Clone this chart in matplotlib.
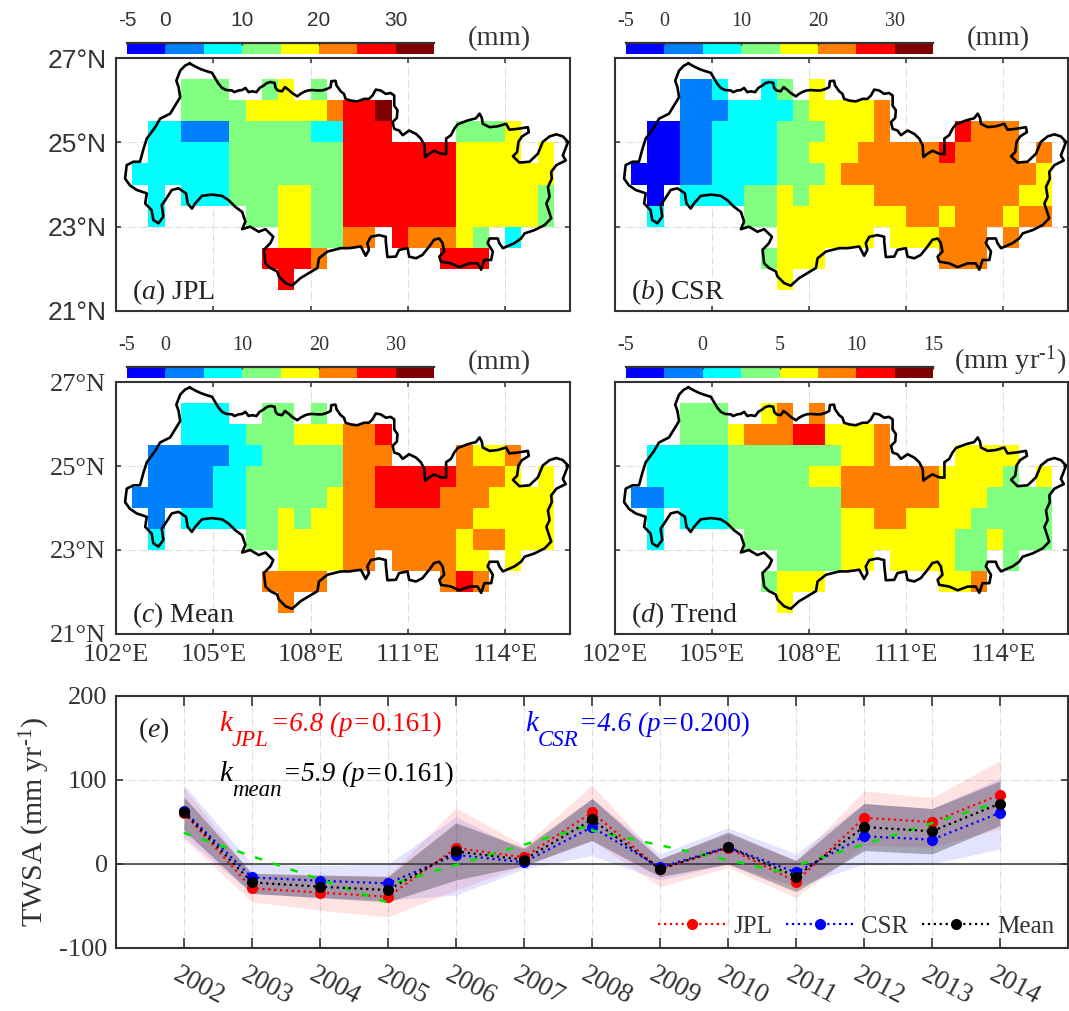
#!/usr/bin/env python3
"""TWSA maps (JPL, CSR, mean, trend) over the basin plus the yearly series."""
import matplotlib
matplotlib.use("Agg")
import matplotlib.pyplot as plt
from matplotlib import cm
from matplotlib.colors import BoundaryNorm, ListedColormap
from matplotlib.transforms import ScaledTranslation
import numpy as np

W, H = 1069, 1011

# class colours of the maps, low to high
CLASS_COLORS = ["#0000ff", "#0080ff", "#00ffff", "#80ff80",
                "#ffff00", "#ff8000", "#ff0000", "#800000"]

# 0.5 degree cells, rows from north to south, cols from 102.5E; . = outside
GRID_JPL = [
    "...333..34.3..............",
    "...3333444445667..........",
    ".221113333322666....3334..",
    ".22222333333366666664444.4",
    "22222233333336666666444444",
    ".2.22233344336666666444443",
    ".2.....3344336666666444443",
    ".........443355.655543.2..",
    "........6665.......666....",
    ".........6................",
]
GRID_CSR = [
    "...112..23.4..............",
    "...1112222344445..........",
    ".001122223334445....6555..",
    ".00112222334445555565555.5",
    "00011222233345555555555554",
    ".0.222233434444555555555" "44",
    ".2.....3344444444554555455",
    ".........444444.444555.5..",
    "........3444.......555....",
    ".........4................",
]
GRID_MEAN = [
    "...222..33.3..............",
    "...2222333444556..........",
    ".111112233333555....5445..",
    ".11112233333355666665554.4",
    "11111223333345566665554444",
    ".1.22223343445555555" "544444",
    ".2.....3344445555555455444",
    ".........444455.555544.4..",
    "........5555.......565....",
    ".........5................",
]
GRID_TREND = [
    "...333..45.5..............",
    "...3334555664445..........",
    ".222223333333445....4444..",
    ".2222233333445555554444" "3.4",
    "11222233333335555554443333",
    ".2.22233333334455444433333",
    ".2.....3333334444444334333",
    ".........333344.444433.3..",
    "........3444.......445....",
    ".........4................",
]

# basin outline, degrees
BORDER_LON = [
    104.27, 104.44, 104.60, 104.78, 104.96, 105.06, 105.16, 105.27, 105.40, 105.58,
    105.65, 105.78, 105.89, 105.99, 106.09, 106.20, 106.33, 106.43, 106.56, 106.64,
    106.76, 106.89, 106.92, 106.99, 107.12, 107.21, 107.33, 107.43, 107.59, 107.69,
    107.81, 107.92, 108.05, 108.21, 108.36, 108.52, 108.62, 108.64, 108.77, 108.80,
    108.93, 109.03, 109.08, 109.24, 109.44, 109.65, 109.80, 109.91, 110.01, 110.16,
    110.32, 110.47, 110.58, 110.58, 110.68, 110.66, 110.53, 110.58, 110.73, 110.84,
    111.04, 111.25, 111.40, 111.51, 111.53, 111.66, 111.81, 112.02, 112.18, 112.18,
    112.33, 112.43, 112.54, 112.85, 113.10, 113.21, 113.28, 113.31, 113.52, 113.77,
    114.03, 114.13, 114.39, 114.70, 114.73, 114.52, 114.41, 114.37, 114.24, 114.44,
    114.75, 115.01, 115.16, 115.37, 115.58, 115.78, 115.94, 115.86, 115.78, 115.87,
    115.58, 115.42, 115.44, 115.32, 115.37, 115.27, 115.42, 115.22, 114.91, 114.60,
    114.49, 114.29, 113.93, 113.82, 113.77, 113.52, 113.46, 113.62, 113.57, 113.36,
    113.26, 113.15, 112.90, 112.59, 112.33, 112.02, 111.97, 112.12, 112.07, 111.97,
    111.81, 111.66, 111.45, 111.25, 111.04, 110.99, 110.73, 110.63, 110.37, 110.32,
    110.32, 110.11, 109.86, 109.75, 109.80, 109.70, 109.55, 109.19, 108.93, 108.52,
    108.26, 108.21, 107.95, 107.69, 107.43, 107.23, 107.02, 106.97, 106.76, 106.61,
    106.56, 106.76, 106.85, 106.61, 106.40, 106.14, 105.89, 105.99, 105.89, 105.68,
    105.47, 105.27, 104.96, 104.65, 104.44, 104.34, 104.21, 104.16, 103.93, 103.72,
    103.52, 103.41, 103.46, 103.31, 103.15, 103.10, 102.90, 102.95, 102.64, 102.43,
    102.28, 102.33, 102.54, 102.74, 102.85, 102.95, 103.21, 103.36, 103.67, 103.82,
    103.98, 103.93, 103.86, 103.98, 104.13, 104.27,
]
BORDER_LAT = [
    26.87, 26.80, 26.74, 26.69, 26.65, 26.52, 26.39, 26.29, 26.24, 26.23,
    26.19, 26.23, 26.24, 26.29, 26.19, 26.21, 26.19, 26.29, 26.35, 26.40,
    26.43, 26.41, 26.29, 26.23, 26.21, 26.31, 26.24, 26.17, 26.09, 26.15,
    26.20, 26.23, 26.24, 26.23, 26.23, 26.27, 26.31, 26.45, 26.46, 26.35,
    26.21, 26.15, 26.03, 25.99, 25.97, 26.03, 26.03, 26.11, 26.25, 26.23,
    26.15, 26.17, 26.11, 25.87, 25.76, 25.58, 25.48, 25.32, 25.28, 25.17,
    25.28, 25.20, 25.09, 24.93, 24.65, 24.73, 24.80, 24.73, 24.72, 25.09,
    25.17, 25.32, 25.43, 25.52, 25.57, 25.68, 25.58, 25.44, 25.36, 25.38,
    25.44, 25.30, 25.32, 25.36, 25.24, 25.14, 25.01, 24.77, 24.67, 24.52,
    24.54, 24.73, 25.01, 25.14, 25.19, 25.14, 25.01, 24.85, 24.69, 24.57,
    24.46, 24.30, 24.14, 23.94, 23.71, 23.55, 23.20, 23.04, 22.92, 22.84,
    22.72, 22.61, 22.49, 22.61, 22.72, 22.72, 22.61, 22.41, 22.21, 22.21,
    21.98, 22.13, 22.13, 22.04, 22.13, 22.17, 22.29, 22.41, 22.61, 22.72,
    22.69, 22.53, 22.33, 22.25, 22.29, 22.49, 22.45, 22.29, 22.28, 22.65,
    22.76, 22.80, 22.76, 22.61, 22.45, 22.31, 22.53, 22.49, 22.49, 22.41,
    22.25, 22.02, 21.90, 21.78, 21.60, 21.66, 21.82, 21.94, 22.02, 22.13,
    22.45, 22.61, 22.76, 22.94, 22.88, 23.00, 22.94, 23.12, 23.35, 23.47,
    23.63, 23.73, 23.76, 23.73, 23.55, 23.43, 23.55, 23.79, 23.91, 23.87,
    23.63, 23.51, 23.24, 23.08, 23.16, 23.39, 23.55, 23.79, 23.87, 23.98,
    24.14, 24.46, 24.54, 24.54, 24.85, 25.09, 25.36, 25.56, 25.68, 25.87,
    26.07, 26.31, 26.46, 26.70, 26.82, 26.87,
]

YEARS = list(range(2002, 2015))
JPL = [60.7, -29, -34, -39, 19, 8, 61.5, -6, 19, -21, 55, 50, 82.5]
CSR = [63, -16, -20, -23, 11, 2, 44, -4, 20, -10, 33, 29, 61]
MEAN = [61.5, -22, -27, -31, 15, 5, 53, -6, 20, -15, 44, 39, 72]

JPL_UP = [91, -13, -14, -14, 67, 22, 94, 6, 36, 4, 87, 79, 123]
JPL_LOW = [30, -45, -55, -63, -31, -2, 28, -27, -4, -40, 22, 20, 42]
CSR_UP = [94, 0, -2, 0, 56, 16, 78, 12, 43, 12, 72, 66, 102]
CSR_LOW = [32, -35, -40, -43, -37, -6, 10, -19, 0, -27, 0, 0, 18]
MEAN_UP = [80, -11, -13, -15, 49, 19, 78, 6, 38, 4, 72, 66, 99]
MEAN_LOW = [40, -35, -40, -45, -19, -2, 28, -15, 0, -33, 16, 12, 46]

# piecewise trend, one leg per 3 years
TREND_X = [2002, 2005, 2005, 2008, 2008, 2011, 2011, 2014]
TREND_Y = [37, -46, -25, 47, 40, -13, -2, 74]

LEVELS_MM = [-5, 0, 5, 10, 15, 20, 25, 30, 35]
TICKS_MM = [-5, 0, 10, 20, 30]
LEVELS_TREND = [-5, -2.5, 0, 2.5, 5, 7.5, 10, 12.5, 15]
TICKS_TREND = [-5, 0, 5, 10, 15]

DARK = "#333333"
SERIF = "Liberation Serif"
SANS = "Liberation Sans"

plt.rcParams.update({
    "font.family": SERIF,
    "axes.unicode_minus": False,
    "mathtext.fontset": "custom",
    "mathtext.rm": SERIF,
    "mathtext.it": SERIF + ":italic",
    "mathtext.bf": SERIF + ":bold",
})


def px_axes(fig, l, t, r, b):
    return fig.add_axes([l / W, 1 - b / H, (r - l) / W, (b - t) / H])


def grid_to_array(rows):
    return np.array([[np.nan if c == "." else int(c) for c in r] for r in rows])


def draw_map(ax, rows, label, yfont=None, xlabels=False):
    lon_e = np.arange(102.5, 116.0, 0.5)
    lat_e = np.arange(26.5, 21.0, -0.5)
    ax.pcolormesh(lon_e, lat_e, grid_to_array(rows),
                  cmap=ListedColormap(CLASS_COLORS), vmin=-0.5, vmax=7.5)
    ax.plot(BORDER_LON, BORDER_LAT, color="k", lw=1.9, zorder=3)
    ax.set_xlim(102, 116)
    ax.set_ylim(21, 27)
    ax.set_xticks([102, 105, 108, 111, 114])
    ax.set_yticks([21, 23, 25, 27])
    ax.set_xticklabels(["102°E", "105°E", "108°E", "111°E", "114°E"] if xlabels
                       else [])
    if yfont:
        ax.set_yticklabels(["21°N", "23°N", "25°N", "27°N"], family=yfont)
    else:
        ax.set_yticklabels([])
    ax.tick_params(direction="in", length=3.6, width=1.1, color=DARK,
                   labelcolor=DARK, labelsize=19, top=True, right=True)
    ax.tick_params(axis="x", pad=7)
    ax.tick_params(axis="y", pad=7)
    ax.grid(True, color="#dddddd", ls="-.", lw=0.8)
    ax.set_axisbelow(True)
    for s in ax.spines.values():
        s.set_linewidth(1.5)
        s.set_color(DARK)
    ax.text(102.5, 21.45, label, fontsize=20, color="#222222", va="center")


def draw_cbar(fig, l, t, levels, ticks, font, size):
    cax = px_axes(fig, l, t, l + 307, t + 11)
    norm = BoundaryNorm(levels, len(CLASS_COLORS))
    sm = cm.ScalarMappable(norm=norm, cmap=ListedColormap(CLASS_COLORS))
    cb = fig.colorbar(sm, cax=cax, orientation="horizontal",
                      ticklocation="top", spacing="proportional", drawedges=False)
    cb.set_ticks(ticks)
    cb.set_ticklabels([str(v) for v in ticks])
    cb.minorticks_off()
    cb.outline.set_visible(False)
    cax.spines["top"].set_visible(True)
    cax.spines["top"].set_linewidth(1.6)
    cax.spines["top"].set_color(DARK)
    cax.tick_params(axis="x", direction="in", length=1.5, width=1, color=DARK,
                    labelcolor=DARK, labelsize=size, pad=9)
    for t_ in cax.get_xticklabels():
        t_.set_family(font)


def ftext(fig, x, y, s, **kw):
    fig.text(x / W, 1 - y / H, s, ha="center", va="center", color=DARK, **kw)


def slope_text(fig, x, y, sub, sub_w, slope, p_val, color):
    # k, its large low subscript, then italic slope and upright p value
    fig.text(x / W, 1 - y / H, "k", fontsize=21, style="italic", color=color,
             va="baseline")
    fig.text((x + 13) / W, 1 - (y + 15) / H, sub, fontsize=16.5, style="italic",
             color=color, va="baseline")
    left = x + 13 + sub_w
    t = fig.text(left / W, 1 - y / H, "=%s (p=" % slope, fontsize=19.5,
                 style="italic", color=color, va="baseline")
    width = t.get_window_extent(fig.canvas.get_renderer()).width
    fig.text((left + width + 1) / W, 1 - y / H, "%s)" % p_val, fontsize=19.5,
             color=color, va="baseline")


def main():
    fig = plt.figure(figsize=(W / 100, H / 100), dpi=100)

    ax_a = px_axes(fig, 116, 58, 570, 311)
    ax_b = px_axes(fig, 615, 58, 1068, 311)
    ax_c = px_axes(fig, 116, 382, 570, 634)
    ax_d = px_axes(fig, 615, 382, 1068, 634)
    draw_map(ax_a, GRID_JPL, r"($\mathit{a}$) JPL", yfont=SANS)
    draw_map(ax_b, GRID_CSR, r"($\mathit{b}$) CSR")
    draw_map(ax_c, GRID_MEAN, r"($\mathit{c}$) Mean", yfont=SERIF, xlabels=True)
    draw_map(ax_d, GRID_TREND, r"($\mathit{d}$) Trend", xlabels=True)

    draw_cbar(fig, 127, 43, LEVELS_MM, TICKS_MM, SANS, 15)
    draw_cbar(fig, 626, 43, LEVELS_MM, TICKS_MM, SERIF, 14.5)
    draw_cbar(fig, 127, 367, LEVELS_MM, TICKS_MM, SERIF, 14.5)
    draw_cbar(fig, 626, 367, LEVELS_TREND, TICKS_TREND, SERIF, 14.5)

    ftext(fig, 499, 39, "(mm)", fontsize=20.5)
    ftext(fig, 998, 39, "(mm)", fontsize=20.5)
    ftext(fig, 499, 363, "(mm)", fontsize=20.5)
    ftext(fig, 1010, 361, r"(mm yr$^{\text{-}1}$)", fontsize=20.5)

    ax = px_axes(fig, 116, 696, 1068, 948)
    ax.fill_between(YEARS, JPL_LOW, JPL_UP, color="#ff0000", alpha=0.11, lw=0)
    ax.fill_between(YEARS, CSR_LOW, CSR_UP, color="#0000ff", alpha=0.11, lw=0)
    ax.fill_between(YEARS, MEAN_LOW, MEAN_UP, color="#222222", alpha=0.32, lw=0)
    ax.axhline(0, color="#333333", lw=1.1, zorder=1.5)

    dot = dict(ls=":", lw=1.6, marker="o", ms=8, mew=0)
    ax.plot(YEARS, JPL, color="#ff0000", label="JPL", **dot)
    ax.plot(YEARS, CSR, color="#0000ff", label="CSR", **dot)
    ax.plot(TREND_X, TREND_Y, color="#00e600", lw=1.8, ls=(0, (3, 4.5)))
    ax.plot(YEARS, MEAN, color="#000000", label="Mean", **dot)

    ax.set_xlim(2001, 2015)
    ax.set_ylim(-100, 200)
    ax.set_xticks(YEARS)
    ax.set_xticklabels([str(y) for y in YEARS], rotation=-28, ha="center",
                       va="top", fontsize=19.5)
    ax.set_yticks([-100, 0, 100, 200])
    ax.tick_params(direction="in", length=7.5, width=1.2, color=DARK,
                   labelcolor=DARK, top=True, right=True)
    ax.tick_params(axis="y", length=5, pad=6, labelsize=19)
    ax.tick_params(axis="x", pad=10.5)
    shift = ScaledTranslation(15 / 100, 0, fig.dpi_scale_trans)
    for lb in ax.get_xticklabels():
        lb.set_transform(lb.get_transform() + shift)
    ax.grid(True, color="#dddddd", ls="-.", lw=0.8)
    ax.set_axisbelow(True)
    for s in ax.spines.values():
        s.set_linewidth(1.5)
        s.set_color(DARK)
    ax.set_ylabel(r"TWSA (mm yr$^{\text{-}1}$)", fontsize=21.5, color=DARK, labelpad=5)

    ax.legend(ncol=3, loc="lower right", bbox_to_anchor=(0.9985, -0.01),
              frameon=False, fontsize=18, handlelength=2.7, handletextpad=0.3,
              columnspacing=0.55, borderpad=0, labelcolor=DARK)

    ax.text(2001.32, 159, r"($\mathit{e}$)", fontsize=20, color="#222222",
            va="center")
    slope_text(fig, 219, 731, "JPL", 39, "6.8", "0.161", "#ff0000")
    slope_text(fig, 525, 731, "CSR", 41, "4.6", "0.200", "#0000ff")
    slope_text(fig, 219, 781, "mean", 51, "5.9", "0.161", "#000000")

    fig.savefig("out.png", dpi=100)


if __name__ == "__main__":
    main()
